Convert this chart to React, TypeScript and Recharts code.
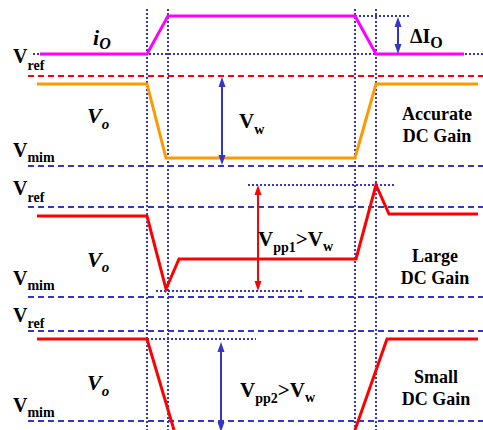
import { ComposedChart, Line, XAxis, YAxis, ReferenceLine, ReferenceDot } from "recharts";

// time axis (left→right) and level axis (top→bottom)
const tEdges = [147, 168, 355, 376];

const ioCurrent = [
  { t: 40, v: 54 }, { t: 147, v: 54 }, { t: 168, v: 16 },
  { t: 355, v: 16 }, { t: 376, v: 54 }, { t: 464, v: 54 },
];
const voAccurate = [
  { t: 37, v: 84 }, { t: 147, v: 84 }, { t: 166, v: 158 },
  { t: 355, v: 158 }, { t: 376, v: 84 }, { t: 478, v: 84 },
];
const voLarge = [
  { t: 37, v: 216 }, { t: 147, v: 216 }, { t: 166, v: 289 }, { t: 179, v: 259 },
  { t: 356, v: 259 }, { t: 376, v: 185 }, { t: 389, v: 214 }, { t: 478, v: 214 },
];
const voSmallFall = [{ t: 37, v: 339 }, { t: 147, v: 339 }, { t: 174, v: 430 }];
const voSmallRise = [{ t: 355, v: 430 }, { t: 387, v: 339 }, { t: 478, v: 339 }];

const redDashed = [76];
const blueDashed = [166, 207, 297, 331, 421];

// dotted helper levels: [level, from, to]
const dottedH = [
  [54, 33, 483],
  [16, 355, 411],
  [185, 248, 394],
  [291, 156, 303],
  [339, 147, 256],
];

// arrows: [t, from, to, colour]
const arrows = [
  [398, 17, 54, "#3535C8"],
  [222, 77, 165, "#3535C8"],
  [258, 185, 291, "#FF0000"],
  [221, 342, 432, "#3535C8"],
];

const BLUE = "#3535C8";
const FONT = "Liberation Serif, Times New Roman, DejaVu Serif, serif";

type Part = { s: string; size: number; dy?: number; italic?: boolean };

const labels: { t: number; v: number; parts: Part[]; anchor?: string }[] = [
  { t: 93, v: 45, parts: [{ s: "i", size: 22, italic: true }, { s: "O", size: 16, dy: 4, italic: true }] },
  { t: 13, v: 63, parts: [{ s: "V", size: 20 }, { s: "ref", size: 14, dy: 7 }] },
  { t: 87, v: 123, parts: [{ s: "V", size: 22, italic: true }, { s: "o", size: 15, dy: 6, italic: true }] },
  { t: 13, v: 157, parts: [{ s: "V", size: 20 }, { s: "mim", size: 14, dy: 5 }] },
  { t: 239, v: 128, parts: [{ s: "V", size: 21 }, { s: "w", size: 14, dy: 6 }] },
  { t: 410, v: 43, parts: [{ s: "ΔI", size: 20 }, { s: "O", size: 16, dy: 5 }] },
  { t: 13, v: 195, parts: [{ s: "V", size: 20 }, { s: "ref", size: 14, dy: 7 }] },
  { t: 87, v: 267, parts: [{ s: "V", size: 22, italic: true }, { s: "o", size: 15, dy: 5, italic: true }] },
  { t: 13, v: 285, parts: [{ s: "V", size: 20 }, { s: "mim", size: 14, dy: 5 }] },
  { t: 258, v: 246, parts: [{ s: "V", size: 21 }, { s: "pp1", size: 14, dy: 6 }, { s: ">", size: 21, dy: -6 }, { s: "V", size: 21 }, { s: "w", size: 14, dy: 5 }] },
  { t: 13, v: 322, parts: [{ s: "V", size: 20 }, { s: "ref", size: 14, dy: 6 }] },
  { t: 87, v: 390, parts: [{ s: "V", size: 22, italic: true }, { s: "o", size: 15, dy: 6, italic: true }] },
  { t: 13, v: 412, parts: [{ s: "V", size: 20 }, { s: "mim", size: 14, dy: 5 }] },
  { t: 240, v: 397, parts: [{ s: "V", size: 21 }, { s: "pp2", size: 14, dy: 6 }, { s: ">", size: 21, dy: -6 }, { s: "V", size: 21 }, { s: "w", size: 14, dy: 5 }] },
  { t: 437, v: 120, anchor: "middle", parts: [{ s: "Accurate", size: 18 }] },
  { t: 437, v: 142, anchor: "middle", parts: [{ s: "DC Gain", size: 18 }] },
  { t: 435, v: 262, anchor: "middle", parts: [{ s: "Large", size: 18 }] },
  { t: 435, v: 284, anchor: "middle", parts: [{ s: "DC Gain", size: 18 }] },
  { t: 436, v: 383, anchor: "middle", parts: [{ s: "Small", size: 18 }] },
  { t: 436, v: 405, anchor: "middle", parts: [{ s: "DC Gain", size: 18 }] },
];

function TextShape(props: any) {
  const { cx, cy, parts, anchor } = props;
  return (
    <text x={cx} y={cy} style={{ fontFamily: FONT, fontWeight: 700 }} fill="#000" textAnchor={anchor || "start"}>
      {parts.map((p: Part, i: number) => (
        <tspan key={i} dy={p.dy || 0} style={{ fontSize: p.size, fontStyle: p.italic ? "italic" : "normal", fontFamily: FONT }}>
          {p.s}
        </tspan>
      ))}
    </text>
  );
}

function ArrowShape(props: any) {
  const { x1, y1, x2, y2, color } = props;
  const top = Math.min(y1, y2);
  const bot = Math.max(y1, y2);
  const x = x1;
  const h = 10;
  const w = 3.5;
  return (
    <g>
      <line x1={x} y1={top + 4} x2={x2} y2={bot - 4} stroke={color} strokeWidth={2} />
      <polygon points={`${x},${top} ${x - w},${top + h} ${x + w},${top + h}`} fill={color} />
      <polygon points={`${x},${bot} ${x - w},${bot - h} ${x + w},${bot - h}`} fill={color} />
    </g>
  );
}

const lineCommon = {
  dataKey: "v",
  type: "linear" as const,
  strokeWidth: 3,
  dot: false,
  activeDot: false,
  isAnimationActive: false,
  strokeLinecap: "butt" as const,
};

export default function App() {
  return (
    <div style={{ position: "absolute", left: 0, top: 0, background: "#fff" }}>
      <ComposedChart width={483} height={430} margin={{ top: 0, right: 0, bottom: 0, left: 0 }}>
        <XAxis type="number" dataKey="t" domain={[0, 483]} hide allowDataOverflow />
        <YAxis type="number" domain={[0, 430]} reversed hide allowDataOverflow />

        {redDashed.map((v) => (
          <ReferenceLine key={"r" + v} segment={[{ x: 28, y: v }, { x: 483, y: v }]} stroke="#FF0000" strokeWidth={2} strokeDasharray="6 4" ifOverflow="visible" />
        ))}
        {blueDashed.map((v) => (
          <ReferenceLine key={"b" + v} segment={[{ x: 28, y: v }, { x: 483, y: v }]} stroke={BLUE} strokeWidth={2} strokeDasharray="6 4" ifOverflow="visible" />
        ))}
        {dottedH.map(([v, a, b]) => (
          <ReferenceLine key={"d" + v} segment={[{ x: a, y: v }, { x: b, y: v }]} stroke={BLUE} strokeWidth={2} strokeDasharray="2 2" ifOverflow="visible" />
        ))}
        {tEdges.map((t) => (
          <ReferenceLine key={"e" + t} segment={[{ x: t, y: 9 }, { x: t, y: 430 }]} stroke={BLUE} strokeWidth={2} strokeDasharray="2 2" ifOverflow="visible" />
        ))}

        <Line {...lineCommon} data={ioCurrent} stroke="#FF00FF" />
        <Line {...lineCommon} data={voAccurate} stroke="#FF9900" />
        <Line {...lineCommon} data={voLarge} stroke="#FF0000" />
        <Line {...lineCommon} data={voSmallFall} stroke="#FF0000" />
        <Line {...lineCommon} data={voSmallRise} stroke="#FF0000" />

        {arrows.map(([t, a, b, c]) => (
          <ReferenceLine
            key={"a" + t}
            segment={[{ x: t as number, y: a as number }, { x: t as number, y: b as number }]}
            ifOverflow="visible"
            shape={(p: any) => <ArrowShape {...p} color={c} />}
          />
        ))}

        {labels.map((l, i) => (
          <ReferenceDot
            key={"l" + i}
            x={l.t}
            y={l.v}
            r={0}
            ifOverflow="visible"
            shape={(p: any) => <TextShape {...p} parts={l.parts} anchor={l.anchor} />}
          />
        ))}
      </ComposedChart>
    </div>
  );
}
